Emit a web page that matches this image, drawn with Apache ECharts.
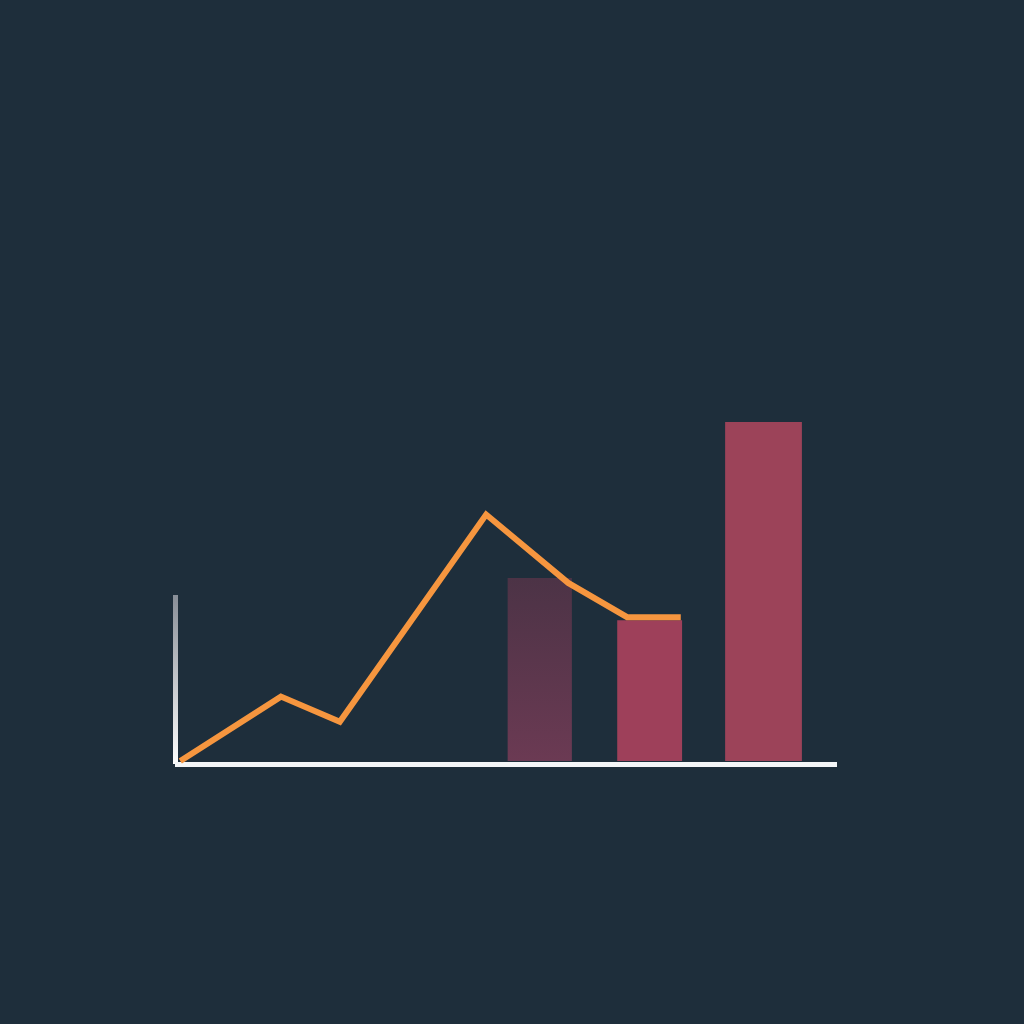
<!DOCTYPE html>
<html>
<head>
<meta charset="utf-8">
<style>html,body{margin:0;padding:0;background:#1e2e3b;}#c{width:1024px;height:1024px;}</style>
<script src="https://cdn.jsdelivr.net/npm/echarts@6/dist/echarts.min.js"></script>
</head>
<body>
<div id="c"></div>
<script>
// Line series (x, y)
const lineX = [0.8, 16.0, 24.9, 47.0, 59.4, 68.3, 76.4];
const lineY = [0.75, 16.75, 10.5, 62, 45, 36.5, 36.5];
// Bars: centre, width, height
const barX = [55.1, 71.7, 88.9];
const barW = [9.7, 9.8, 11.6];
const barY = [46.25, 35.75, 85.0];

const barFills = [
  new echarts.graphic.LinearGradient(0, 0, 0, 1, [{offset: 0, color: '#4c3346'}, {offset: 1, color: '#6b3a53'}]),
  '#9e405a',
  '#9c4359'
];

const chart = echarts.init(document.getElementById('c'), null, {renderer: 'canvas'});
chart.setOption({
  backgroundColor: '#1e2e3b',
  animation: false,
  grid: {left: 175, right: 187, top: 595, bottom: 260},
  xAxis: {
    type: 'value', min: 0, max: 100,
    axisLine: {show: true, lineStyle: {color: '#f4f6f8', width: 5, cap: 'butt'}},
    axisTick: {show: false}, axisLabel: {show: false}, splitLine: {show: false}
  },
  yAxis: {
    type: 'value', min: 0, max: 42,
    axisLine: {show: true, lineStyle: {width: 5, cap: 'butt', color: new echarts.graphic.LinearGradient(0, 0, 0, 1, [{offset: 0, color: '#868c95'}, {offset: 1, color: '#ffffff'}])}},
    axisTick: {show: false}, axisLabel: {show: false}, splitLine: {show: false}
  },
  series: [
    {
      type: 'custom',
      clip: false,
      z: 1,
      data: barX.map((x, i) => [x, barY[i], barW[i], i]),
      renderItem: function (params, api) {
        const x = api.value(0), y = api.value(1), w = api.value(2), i = api.value(3);
        const p1 = api.coord([x - w / 2, y]);
        const p2 = api.coord([x + w / 2, 0]);
        return {
          type: 'rect',
          shape: {x: p1[0], y: p1[1], width: p2[0] - p1[0], height: p2[1] - p1[1] - 3},
          style: {fill: barFills[i]}
        };
      }
    },
    {
      type: 'line',
      clip: false,
      z: 3,
      data: lineX.map((x, i) => [x, lineY[i]]),
      symbol: 'none',
      lineStyle: {color: '#f6963f', width: 6, join: 'miter'}
    }
  ]
});
</script>
</body>
</html>
